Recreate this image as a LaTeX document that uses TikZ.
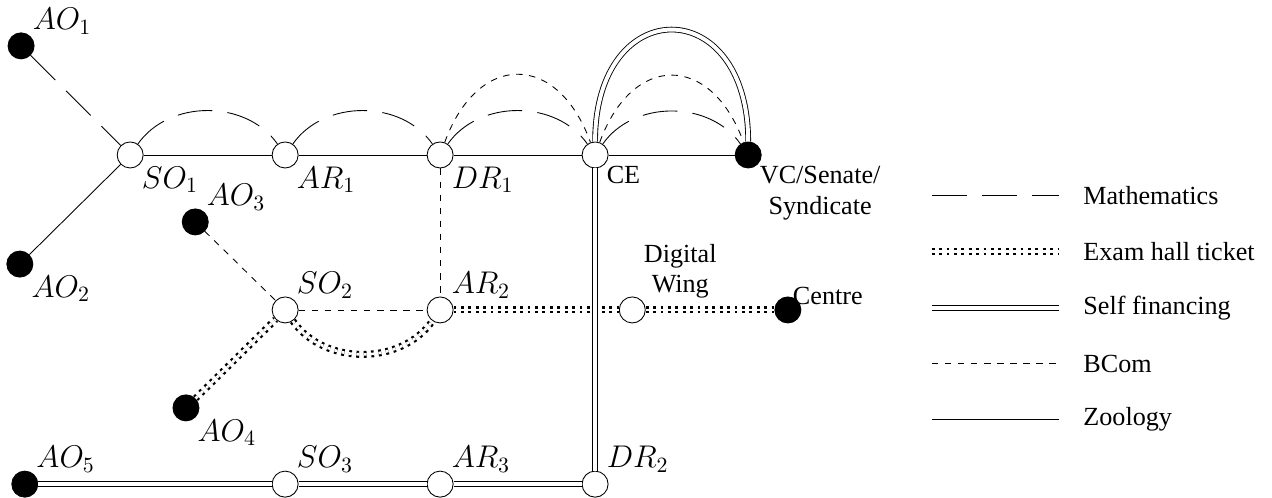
\documentclass[tikz,border=0pt]{standalone}
\usepackage{fontspec}
\setmainfont{Liberation Serif}
\usepackage{tikz}
\tikzset{
  offnode/.style={circle,draw=black,fill=white,minimum size=4.2mm,inner sep=0pt},
  onnode/.style={offnode,fill=black},
  every label/.style={font=\large,inner sep=0.8pt},
  mathlbl/.style={font=\fontsize{13.6}{16}\selectfont},
  mathsedge/.style={dash pattern=on 16pt off 7pt},
  examedge/.style={double,double distance=1.2pt,line width=1pt,dash pattern=on 1.3pt off 2.1pt},
  selfedge/.style={double,double distance=1.8pt},
  bcomedge/.style={dashed},
  zooedge/.style={solid},
  legtext/.style={anchor=west,font=\large,inner sep=0pt},
}

\begin{document}
\begin{tikzpicture}
  \useasboundingbox (0,0) rectangle (20.52,-8.02);
  % offices
  \node[onnode,label={[mathlbl]above right:$AO_1$}] (nAO1) at (0.34,-0.74) {};
  \node[offnode,label={[mathlbl]below right:$SO_1$}] (nSO1) at (2.1,-2.5) {};
  \node[onnode,label={[mathlbl]below right:$AO_2$}] (nAO2) at (0.32,-4.26) {};
  \node[offnode,label={[mathlbl]below right:$AR_1$}] (nAR1) at (4.6,-2.5) {};
  \node[offnode,label={[mathlbl]below right:$DR_1$}] (nDR1) at (7.1,-2.5) {};
  \node[offnode,label={below right:CE}] (nCE) at (9.6,-2.5) {};
  \node[onnode,label={[align=center]below right:{VC/Senate/\\Syndicate}}] (nVC) at (12.07,-2.5) {};
  \node[onnode,label={[mathlbl]above right:$AO_3$}] (nAO3) at (3.15,-3.58) {};
  \node[offnode,label={[mathlbl]above right:$SO_2$}] (nSO2) at (4.6,-5.0) {};
  \node[offnode,label={[mathlbl]above right:$AR_2$}] (nAR2) at (7.1,-5.0) {};
  \node[onnode,label={[mathlbl]below right:$AO_4$}] (nAO4) at (3.0,-6.58) {};
  \node[offnode,label={[align=center]above right:{Digital\\Wing}}] (nDW) at (10.2,-5.0) {};
  \node[onnode,label={[label distance=-1.5mm]above right:Centre}] (nCen) at (12.71,-5.0) {};
  \node[onnode,label={[mathlbl]above right:$AO_5$}] (nAO5) at (0.4,-7.81) {};
  \node[offnode,label={[mathlbl]above right:$SO_3$}] (nSO3) at (4.6,-7.81) {};
  \node[offnode,label={[mathlbl]above right:$AR_3$}] (nAR3) at (7.1,-7.81) {};
  \node[offnode,label={[mathlbl]above right:$DR_2$}] (nDR2) at (9.6,-7.81) {};
  % Zoology
  \draw[zooedge] (nSO1) -- (nAO2);
  \draw[zooedge] (nSO1) -- (nAR1);
  \draw[zooedge] (nAR1) -- (nDR1);
  \draw[zooedge] (nDR1) -- (nCE);
  \draw[zooedge] (nCE) -- (nVC);
  % Mathematics
  \draw[mathsedge] (nAO1) -- (nSO1);
  \draw[mathsedge] (nSO1) to[bend left=55] (nAR1);
  \draw[mathsedge] (nAR1) to[bend left=55] (nDR1);
  \draw[mathsedge] (nDR1) to[bend left=55] (nCE);
  \draw[mathsedge] (nCE) to[bend left=55] (nVC);
  % BCom
  \draw[bcomedge] (nDR1) -- (nAR2);
  \draw[bcomedge] (nAO3) -- (nSO2);
  \draw[bcomedge] (nSO2) -- (nAR2);
  \draw[bcomedge] (nDR1) to[bend left=70,looseness=1.7] (nCE);
  \draw[bcomedge] (nCE) to[bend left=70,looseness=1.7] (nVC);
  % Exam hall ticket
  \draw[examedge] (nAO4) -- (nSO2);
  \draw[examedge] (nSO2) to[bend right=55] (nAR2);
  \draw[examedge] (nAR2) -- (nDW);
  \draw[examedge] (nDW) -- (nCen);
  % Self financing
  \draw[selfedge] (nCE) -- (nDR2);
  \draw[selfedge] (nAO5) -- (nSO3);
  \draw[selfedge] (nSO3) -- (nAR3);
  \draw[selfedge] (nAR3) -- (nDR2);
  \draw[selfedge] (nCE) to[out=90,in=90,looseness=2.5] (nVC);
  % legend
  \coordinate (lgMa) at (15.03,-3.16);  \coordinate (lgMb) at (17.08,-3.16);
  \coordinate (lgEa) at (15.03,-4.06);  \coordinate (lgEb) at (17.08,-4.06);
  \coordinate (lgSa) at (15.03,-4.97);  \coordinate (lgSb) at (17.08,-4.97);
  \coordinate (lgBa) at (15.03,-5.87);  \coordinate (lgBb) at (17.08,-5.87);
  \coordinate (lgZa) at (15.03,-6.77);  \coordinate (lgZb) at (17.08,-6.77);
  \draw[mathsedge] (lgMa) -- (lgMb);
  \draw[examedge] (lgEa) -- (lgEb);
  \draw[selfedge] (lgSa) -- (lgSb);
  \draw[bcomedge] (lgBa) -- (lgBb);
  \draw[zooedge] (lgZa) -- (lgZb);
  \node[legtext] (tMaths) at (17.47,-3.16) {Mathematics};
  \node[legtext] (tExam) at (17.47,-4.06) {Exam hall ticket};
  \node[legtext] (tSelf) at (17.47,-4.97) {Self financing};
  \node[legtext] (tBCom) at (17.47,-5.87) {BCom};
  \node[legtext] (tZoo) at (17.47,-6.77) {Zoology};
\end{tikzpicture}
\end{document}
